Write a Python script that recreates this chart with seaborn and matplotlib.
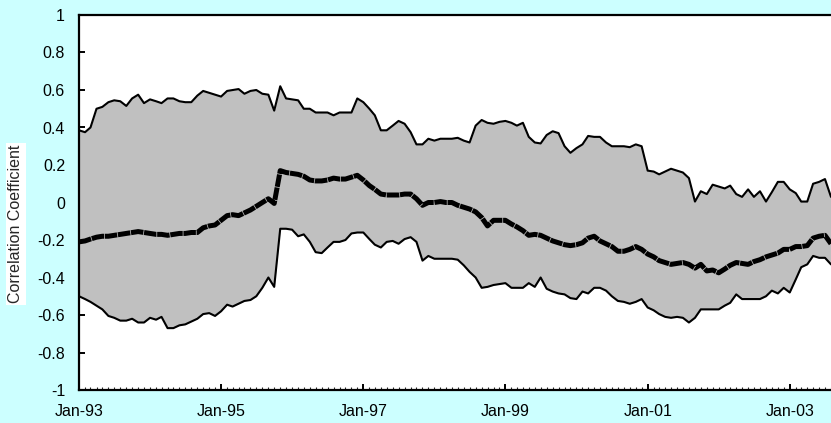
import numpy as np
import pandas as pd
import matplotlib
matplotlib.use("Agg")
import matplotlib.pyplot as plt
import matplotlib.dates as mdates
import seaborn as sns

# --- DATA (monthly, Jan-93 .. Aug-03) ---
start_month = "1993-01-01"

upper_band = [
    0.385, 0.375, 0.40, 0.50, 0.51, 0.535, 0.545, 0.54, 0.515, 0.555, 0.575, 0.53,
    0.55, 0.54, 0.53, 0.555, 0.555, 0.54, 0.535, 0.535, 0.57, 0.595, 0.585, 0.575,
    0.565, 0.595, 0.60, 0.605, 0.58, 0.595, 0.60, 0.58, 0.575, 0.49, 0.62, 0.555,
    0.55, 0.545, 0.50, 0.50, 0.48, 0.48, 0.48, 0.465, 0.48, 0.48, 0.48, 0.555,
    0.535, 0.50, 0.465, 0.385, 0.385, 0.41, 0.435, 0.42, 0.375, 0.31, 0.31, 0.34,
    0.33, 0.34, 0.34, 0.34, 0.345, 0.33, 0.32, 0.41, 0.44, 0.425, 0.42, 0.43,
    0.435, 0.425, 0.41, 0.425, 0.35, 0.32, 0.315, 0.36, 0.38, 0.37, 0.30, 0.265,
    0.29, 0.31, 0.355, 0.35, 0.35, 0.32, 0.30, 0.30, 0.30, 0.295, 0.31, 0.30,
    0.17, 0.165, 0.15, 0.165, 0.18, 0.17, 0.16, 0.13, 0.005, 0.06, 0.045, 0.095,
    0.085, 0.075, 0.09, 0.045, 0.03, 0.07, 0.03, 0.06, 0.005, 0.055, 0.11, 0.11,
    0.07, 0.05, 0.005, 0.005, 0.10, 0.11, 0.125, 0.03,
]

lower_band = [
    -0.50, -0.515, -0.53, -0.55, -0.57, -0.605, -0.615, -0.63, -0.63, -0.62, -0.64, -0.64,
    -0.615, -0.625, -0.61, -0.67, -0.67, -0.655, -0.65, -0.635, -0.62, -0.595, -0.59, -0.605,
    -0.58, -0.545, -0.555, -0.54, -0.525, -0.52, -0.50, -0.455, -0.40, -0.45, -0.14, -0.14,
    -0.145, -0.18, -0.17, -0.21, -0.265, -0.27, -0.24, -0.21, -0.21, -0.20, -0.165, -0.16,
    -0.16, -0.195, -0.225, -0.24, -0.21, -0.205, -0.22, -0.195, -0.185, -0.21, -0.31, -0.285,
    -0.30, -0.30, -0.30, -0.30, -0.305, -0.335, -0.37, -0.40, -0.455, -0.45, -0.44, -0.435,
    -0.43, -0.455, -0.455, -0.455, -0.43, -0.45, -0.40, -0.46, -0.475, -0.485, -0.49, -0.51,
    -0.515, -0.475, -0.485, -0.455, -0.455, -0.47, -0.50, -0.525, -0.53, -0.54, -0.53, -0.515,
    -0.56, -0.575, -0.595, -0.61, -0.615, -0.61, -0.615, -0.64, -0.615, -0.57, -0.57, -0.57,
    -0.57, -0.55, -0.535, -0.49, -0.515, -0.515, -0.515, -0.515, -0.50, -0.47, -0.485, -0.455,
    -0.48, -0.41, -0.345, -0.33, -0.285, -0.295, -0.295, -0.33,
]

correlation = [
    -0.21, -0.205, -0.195, -0.185, -0.18, -0.18, -0.175, -0.17, -0.165, -0.16, -0.155, -0.16,
    -0.165, -0.17, -0.17, -0.175, -0.17, -0.165, -0.165, -0.16, -0.16, -0.135, -0.125, -0.12,
    -0.095, -0.07, -0.065, -0.07, -0.055, -0.04, -0.02, 0.0, 0.02, -0.005, 0.17, 0.16,
    0.155, 0.15, 0.14, 0.12, 0.115, 0.115, 0.12, 0.13, 0.125, 0.125, 0.135, 0.145,
    0.12, 0.09, 0.07, 0.045, 0.04, 0.04, 0.04, 0.045, 0.045, 0.02, -0.015, 0.0,
    0.0, 0.005, 0.0, 0.0, -0.015, -0.025, -0.035, -0.05, -0.08, -0.125, -0.095, -0.095,
    -0.095, -0.115, -0.13, -0.15, -0.175, -0.17, -0.175, -0.19, -0.205, -0.215, -0.225, -0.23,
    -0.225, -0.215, -0.19, -0.18, -0.205, -0.22, -0.235, -0.26, -0.26, -0.25, -0.235, -0.25,
    -0.275, -0.29, -0.31, -0.32, -0.33, -0.325, -0.32, -0.33, -0.35, -0.33, -0.365, -0.36,
    -0.375, -0.355, -0.335, -0.32, -0.325, -0.33, -0.315, -0.305, -0.29, -0.28, -0.27, -0.25,
    -0.25, -0.235, -0.235, -0.23, -0.19, -0.18, -0.175, -0.22,
]

x_tick_dates = ["1993-01-01", "1995-01-01", "1997-01-01", "1999-01-01", "2001-01-01", "2003-01-01"]
x_ticklabels = ["Jan-93", "Jan-95", "Jan-97", "Jan-99", "Jan-01", "Jan-03"]
y_ticks = [-1, -0.8, -0.6, -0.4, -0.2, 0, 0.2, 0.4, 0.6, 0.8, 1]
y_ticklabels = ["-1", "-0.8", "-0.6", "-0.4", "-0.2", "0", "0.2", "0.4", "0.6", "0.8", "1"]

dates = pd.date_range(start_month, periods=len(correlation), freq="MS")
df = pd.DataFrame({"date": dates, "upper": upper_band, "lower": lower_band, "corr": correlation})

# --- STYLE ---
sns.set_theme(style="white")
plt.rcParams["font.family"] = ["Liberation Sans", "DejaVu Sans"]

fig = plt.figure(figsize=(8.31, 4.23), dpi=100, facecolor="#CCFFFF")
ax = fig.add_axes([79 / 831, 1 - 390 / 423, 1 - 79 / 831, (390 - 15) / 423])
ax.set_facecolor("white")

ax.fill_between(df["date"], df["lower"], df["upper"], color="#C0C0C0", linewidth=0, zorder=1)
sns.lineplot(data=df, x="date", y="upper", color="black", linewidth=1.5, ax=ax, zorder=2)
sns.lineplot(data=df, x="date", y="lower", color="black", linewidth=1.5, ax=ax, zorder=2)
sns.lineplot(data=df, x="date", y="corr", color="black", linewidth=3.6, ax=ax, zorder=3,
             linestyle=(0, (2.5, 0.15)))

ax.set_xlim(dates[0], dates[-1])
ax.set_ylim(-1, 1)
ax.set_yticks(y_ticks)
ax.set_yticklabels(y_ticklabels)

ax.set_xticks(pd.to_datetime(x_tick_dates))
ax.set_xticklabels(x_ticklabels)
ax.xaxis.set_minor_locator(mdates.MonthLocator())

ax.tick_params(axis="both", which="major", direction="in", length=4.5, width=1.4,
               labelsize=11.5, colors="black", pad=10)
ax.tick_params(axis="x", which="minor", direction="in", length=2, width=0.8, bottom=True)
ax.tick_params(axis="y", left=True)
ax.tick_params(axis="x", bottom=True)

for side in ["left", "top", "bottom"]:
    ax.spines[side].set_color("black")
    ax.spines[side].set_linewidth(1.6)
ax.spines["right"].set_visible(False)

ax.set_xlabel("")
ax.set_ylabel("")
fig.text(16 / 831, 1 - 224 / 423, "Correlation Coefficient", rotation=90,
         ha="center", va="center", fontsize=11.5,
         bbox=dict(facecolor="white", edgecolor="none", pad=1.5))

plt.savefig("out.png", dpi=100, facecolor=fig.get_facecolor())
plt.close()
